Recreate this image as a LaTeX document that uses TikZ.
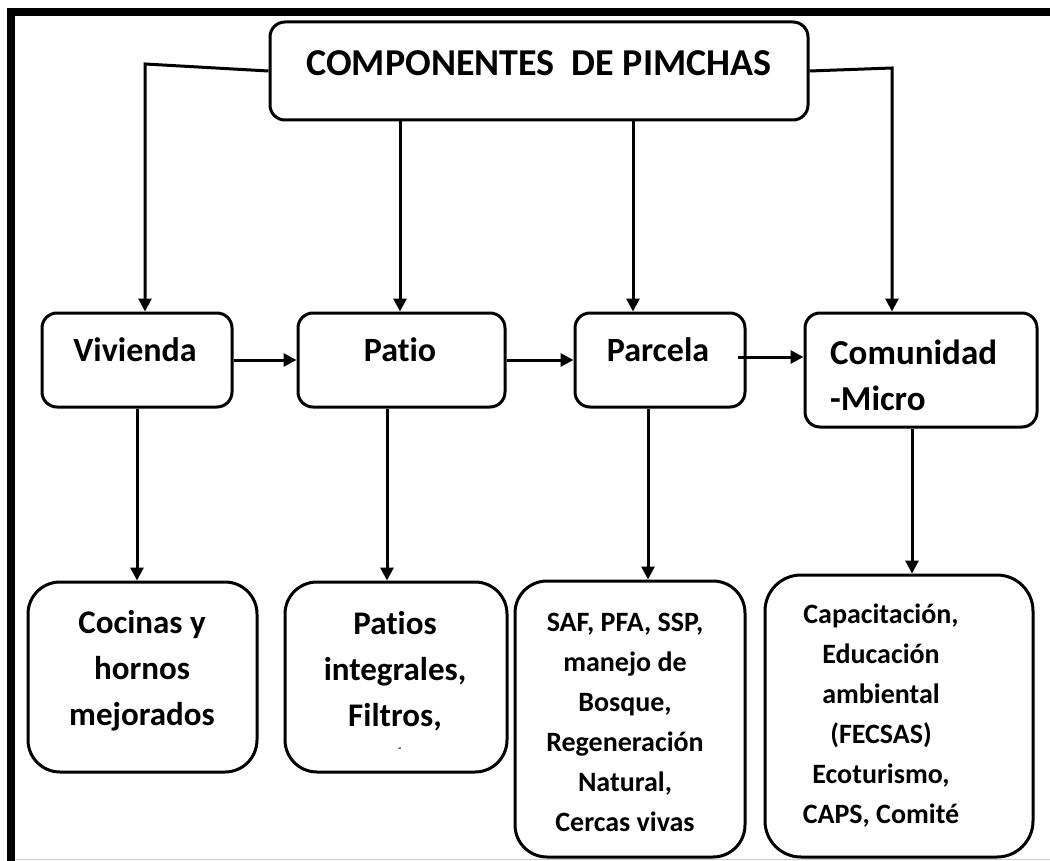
\documentclass[tikz,border=0pt]{standalone}
\usepackage{fontspec}
\setmainfont{Carlito}[RawFeature=-liga]
\usetikzlibrary{arrows.meta}
\begin{document}
\begin{tikzpicture}[x=1pt,y=-1pt,
  box/.style={draw, line width=3pt, rounded corners=15pt, inner sep=0pt},
  bigbox/.style={draw, line width=3pt, rounded corners=32pt, inner sep=0pt},
  lbl/.style={inner sep=0pt, align=center},
  conn/.style={line width=3pt, -{Triangle[length=13pt,width=13pt]}},
  wire/.style={line width=3pt}
]
\useasboundingbox (0,0) rectangle (1050,861);
% frame
\fill (7,8) rectangle (1050,16);
\fill (7,8) rectangle (15,861);
\draw[black!20, line width=1pt] (15,859.5) -- (1050,859.5);

% boxes
\node[box, minimum width=538pt, minimum height=98pt] (top) at (539,71) {};
\node[box, minimum width=190pt, minimum height=94pt] (viv) at (137,360) {};
\node[box, minimum width=207pt, minimum height=94pt] (pat) at (401.5,360) {};
\node[box, minimum width=170pt, minimum height=94pt] (par) at (660,360) {};
\node[box, minimum width=232pt, minimum height=114pt] (com) at (921,370) {};
\node[bigbox, minimum width=229pt, minimum height=190pt] (coc) at (142.5,677) {};
\node[bigbox, minimum width=222pt, minimum height=190pt] (pats) at (396,677) {};
\node[bigbox, minimum width=230pt, minimum height=276pt] (saf) at (630,719) {};
\node[bigbox, minimum width=268pt, minimum height=282pt, rounded corners=36pt] (cap) at (899,716) {};

% texts
\node[lbl, font=\bfseries\fontsize{38}{46}\selectfont] (ttl) at (539,63) {COMPONENTES\ \ DE PIMCHAS};
\node[lbl, font=\bfseries\fontsize{34}{46}\selectfont] (tviv) at (135,350) {Vivienda};
\node[lbl, font=\bfseries\fontsize{34}{46}\selectfont] (tpat) at (400,350) {Pat\kern0pt io};
\node[lbl, font=\bfseries\fontsize{34}{46}\selectfont] (tpar) at (658,350) {Parcela};
\node[lbl, align=left, anchor=west, font=\bfseries\fontsize{35}{46}\selectfont] (tcom) at (830,375) {Comunidad\\-Micro};
\node[lbl, font=\bfseries\fontsize{33}{46}\selectfont] (tcoc) at (142,671) {Cocinas y\\hornos\\mejorados};
\node[lbl, font=\bfseries\fontsize{33}{46}\selectfont] (tpats) at (395,671) {Pat\kern0pt ios\\integrales,\\Filtros,};
\node[lbl, font=\bfseries\fontsize{10}{10}\selectfont] (tdash) at (400,750) {-};
\node[lbl, font=\bfseries\fontsize{28}{40}\selectfont] (tsaf) at (625,722) {SAF, PFA, SSP,\\manejo de\\Bosque,\\Regeneración\\Natural,\\Cercas vivas};
\node[lbl, font=\bfseries\fontsize{28}{40}\selectfont] (tcap) at (881,716) {Capacitación,\\Educación\\ambiental\\(FECSAS)\\Ecoturismo,\\CAPS, Comité};

% connector coordinates
\coordinate (lk) at (145,64);
\coordinate (rk) at (892,68);
\coordinate (x1) at (400,0);
\coordinate (x2) at (633,0);
\coordinate (d2) at (387,0);
\coordinate (d3) at (648,0);
\coordinate (d4) at (912,0);
\coordinate (pc) at (738,357);

% connectors
\draw[conn] (top.west) -- (lk) -- (lk |- viv.north);
\draw[conn] (top.east) -- (rk) -- (rk |- com.north);
\draw[conn] (x1 |- top.south) -- (x1 |- pat.north);
\draw[conn] (x2 |- top.south) -- (x2 |- par.north);
\draw[conn] (viv.east) -- (pat.west);
\draw[conn] (pat.east) -- (par.west);
\draw[conn] (pc) -- (pc -| com.west);
\draw[conn] (viv.south) -- (viv.south |- coc.north);
\draw[conn] (d2 |- pat.south) -- (d2 |- pats.north);
\draw[conn] (d3 |- par.south) -- (d3 |- saf.north);
\draw[conn] (d4 |- com.south) -- (d4 |- cap.north);
\end{tikzpicture}
\end{document}
